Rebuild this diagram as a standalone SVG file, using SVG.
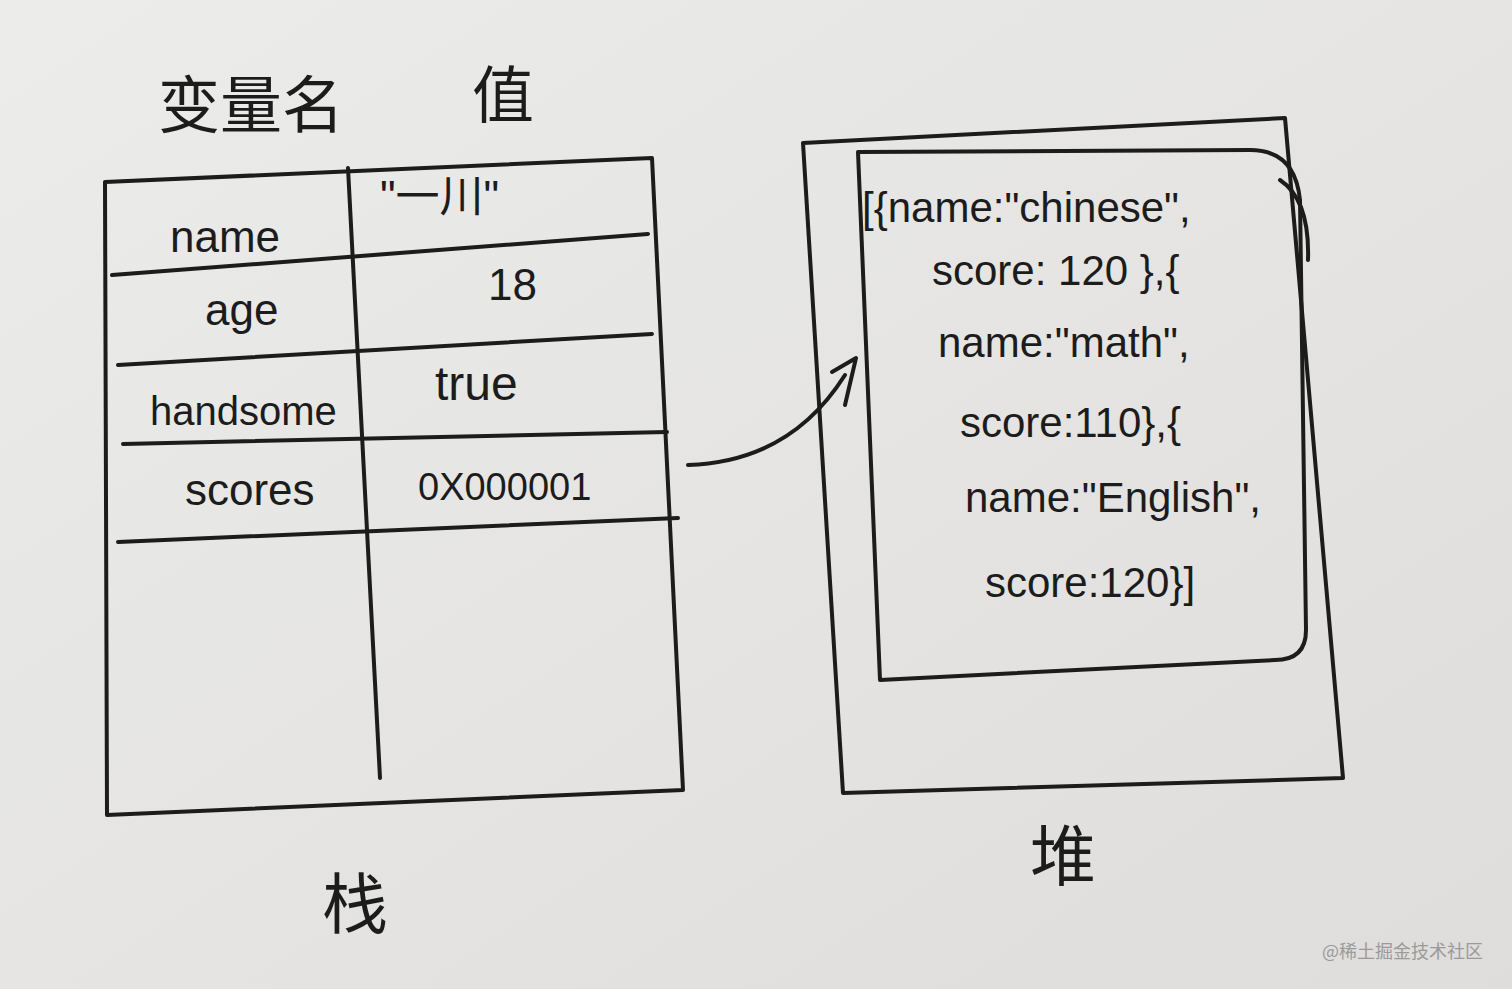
<svg xmlns="http://www.w3.org/2000/svg" width="1512" height="989" viewBox="0 0 1512 989">
<style>
.ln{fill:none;stroke:#1c1c1c;stroke-width:4;stroke-linecap:round;stroke-linejoin:round}
.t{font-family:"Liberation Sans","Noto Sans CJK SC",sans-serif;fill:#1c1c1c}
.cn{font-family:"Noto Sans CJK SC",sans-serif;fill:#1c1c1c}
</style>
<defs><linearGradient id="bg" x1="0" y1="0" x2="1" y2="1"><stop offset="0" stop-color="#ececea"/><stop offset="1" stop-color="#dedddb"/></linearGradient></defs>
<rect width="1512" height="989" fill="url(#bg)"/>
<g id="headers">
<text class="cn" x="158" y="128" font-size="62">变量名</text>
<text class="cn" x="472" y="118" font-size="62">值</text>
</g>
<g id="stack">
<path class="ln" d="M105,182 L652,158 L683,790 L107,815 Z"/>
<path class="ln" d="M348,168 L380,778"/>
<path class="ln" d="M112,275 L648,234"/>
<path class="ln" d="M118,365 L652,334"/>
<path class="ln" d="M123,444 L667,432"/>
<path class="ln" d="M118,542 L678,518"/>
<text class="t" x="170" y="252" font-size="44">name</text>
<text class="t" x="380" y="212" font-size="44">"一川"</text>
<text class="t" x="205" y="325" font-size="44">age</text>
<text class="t" x="488" y="300" font-size="44">18</text>
<text class="t" x="150" y="425" font-size="40">handsome</text>
<text class="t" x="435" y="400" font-size="48">true</text>
<text class="t" x="185" y="505" font-size="44">scores</text>
<text class="t" x="418" y="500" font-size="38">0X000001</text>
<text class="cn" x="322" y="928" font-size="66">栈</text>
</g>
<g id="heap">
<path class="ln" d="M803,143 L1285,118 L1343,778 L843,793 Z"/>
<path class="ln" d="M858,152 L1250,150 Q1295,150 1300,200 L1306,630 Q1306,660 1275,660 L880,680 Z"/>
<path class="ln" d="M1280,180 Q1310,200 1308,260"/>
<text class="t" x="862" y="222" font-size="42">[{name:"chinese",</text>
<text class="t" x="932" y="285" font-size="42">score: 120 },{</text>
<text class="t" x="938" y="357" font-size="42">name:"math",</text>
<text class="t" x="960" y="437" font-size="42">score:110},{</text>
<text class="t" x="965" y="512" font-size="42">name:"English",</text>
<text class="t" x="985" y="597" font-size="42">score:120}]</text>
<text class="cn" x="1030" y="880" font-size="66">堆</text>
</g>
<g id="connectors">
<path class="ln" d="M688,465 Q790,462 845,375"/>
<path class="ln" d="M832,372 L856,358 L845,405"/>
</g>
<text class="cn" x="1322" y="958" font-size="18" fill="#9a9a9a" style="fill:#9a9a9a">@稀土掘金技术社区</text>
</svg>
